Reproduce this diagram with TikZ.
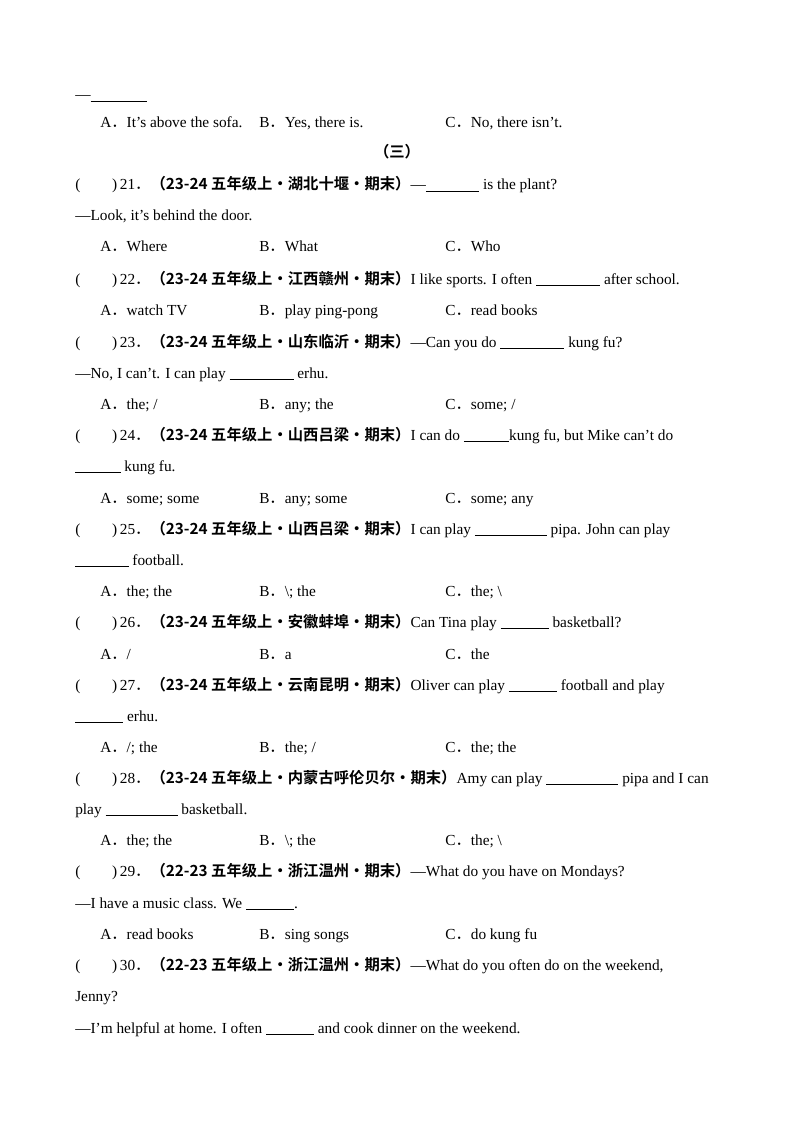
\documentclass[tikz,border=0pt]{standalone}
\usepackage{fontspec}
\setmainfont{Liberation Serif}
\newfontfamily\cjk{Noto Sans CJK SC}
\newfontfamily\cjkb{Noto Sans CJK SC Bold}
\newcommand{\bl}[1]{\rule[-1.5pt]{#1}{0.5pt}}
\newcommand{\pr}[1]{(\hspace{8.4mm})\,#1{\cjk ．}}
\newcommand{\src}[1]{{\cjkb （#1·期末）}}
\newcommand{\op}[1]{#1{\cjk ．}}
\begin{document}
\begin{tikzpicture}[x=0.75pt,y=-0.75pt,
  tl/.style={anchor=base west,inner sep=0pt,font=\fontsize{11.5}{13}\selectfont}]
\useasboundingbox (0,0) rectangle (794,1123);
\node[tl] (l1) at (75,100) {—\bl{42pt}};
\node[tl] (a20) at (100,128) {\op{A}It’s above the sofa.};
\node[tl] (b20) at (259,128) {\op{B}Yes, there is.};
\node[tl] (c20) at (445,128) {\op{C}No, there isn’t.};
\node[tl,anchor=base] (h3) at (397,158) {\cjkb （三）};
\node[tl] (q21) at (75,190) {\pr{21}\src{23-24 五年级上·湖北十堰}—\bl{40pt} is the plant?};
\node[tl] (q21b) at (75,221) {—Look, it’s behind the door.};
\node[tl] (a21) at (100,252) {\op{A}Where};
\node[tl] (b21) at (259,252) {\op{B}What};
\node[tl] (c21) at (445,252) {\op{C}Who};
\node[tl] (q22) at (75,284) {\pr{22}\src{23-24 五年级上·江西赣州}I like sports. I often \bl{48pt} after school.};
\node[tl] (a22) at (100,315) {\op{A}watch TV};
\node[tl] (b22) at (259,315) {\op{B}play ping-pong};
\node[tl] (c22) at (445,315) {\op{C}read books};
\node[tl] (q23) at (75,347) {\pr{23}\src{23-24 五年级上·山东临沂}—Can you do \bl{48pt} kung fu?};
\node[tl] (q23b) at (75,378) {—No, I can’t. I can play \bl{48pt} erhu.};
\node[tl] (a23) at (100,409) {\op{A}the; /};
\node[tl] (b23) at (259,409) {\op{B}any; the};
\node[tl] (c23) at (445,409) {\op{C}some; /};
\node[tl] (q24) at (75,440) {\pr{24}\src{23-24 五年级上·山西吕梁}I can do \bl{34pt}kung fu, but Mike can’t do};
\node[tl] (q24b) at (75,471) {\bl{34pt} kung fu.};
\node[tl] (a24) at (100,503) {\op{A}some; some};
\node[tl] (b24) at (259,503) {\op{B}any; some};
\node[tl] (c24) at (445,503) {\op{C}some; any};
\node[tl] (q25) at (75,534) {\pr{25}\src{23-24 五年级上·山西吕梁}I can play \bl{54pt} pipa. John can play};
\node[tl] (q25b) at (75,565) {\bl{40pt} football.};
\node[tl] (a25) at (100,596) {\op{A}the; the};
\node[tl] (b25) at (259,596) {\op{B}\textbackslash; the};
\node[tl] (c25) at (445,596) {\op{C}the; \textbackslash};
\node[tl] (q26) at (75,627) {\pr{26}\src{23-24 五年级上·安徽蚌埠}Can Tina play \bl{36pt} basketball?};
\node[tl] (a26) at (100,659) {\op{A}/};
\node[tl] (b26) at (259,659) {\op{B}a};
\node[tl] (c26) at (445,659) {\op{C}the};
\node[tl] (q27) at (75,690) {\pr{27}\src{23-24 五年级上·云南昆明}Oliver can play \bl{36pt} football and play};
\node[tl] (q27b) at (75,721) {\bl{36pt} erhu.};
\node[tl] (a27) at (100,752) {\op{A}/; the};
\node[tl] (b27) at (259,752) {\op{B}the; /};
\node[tl] (c27) at (445,752) {\op{C}the; the};
\node[tl] (q28) at (75,783) {\pr{28}\src{23-24 五年级上·内蒙古呼伦贝尔}Amy can play \bl{54pt} pipa and I can};
\node[tl] (q28b) at (75,814) {play \bl{54pt} basketball.};
\node[tl] (a28) at (100,845) {\op{A}the; the};
\node[tl] (b28) at (259,845) {\op{B}\textbackslash; the};
\node[tl] (c28) at (445,845) {\op{C}the; \textbackslash};
\node[tl] (q29) at (75,876) {\pr{29}\src{22-23 五年级上·浙江温州}—What do you have on Mondays?};
\node[tl] (q29b) at (75,908) {—I have a music class. We \bl{36pt}.};
\node[tl] (a29) at (100,939) {\op{A}read books};
\node[tl] (b29) at (259,939) {\op{B}sing songs};
\node[tl] (c29) at (445,939) {\op{C}do kung fu};
\node[tl] (q30) at (75,970) {\pr{30}\src{22-23 五年级上·浙江温州}—What do you often do on the weekend,};
\node[tl] (q30b) at (75,1001) {Jenny?};
\node[tl] (q30c) at (75,1033) {—I’m helpful at home. I often \bl{36pt} and cook dinner on the weekend.};
\end{tikzpicture}
\end{document}
